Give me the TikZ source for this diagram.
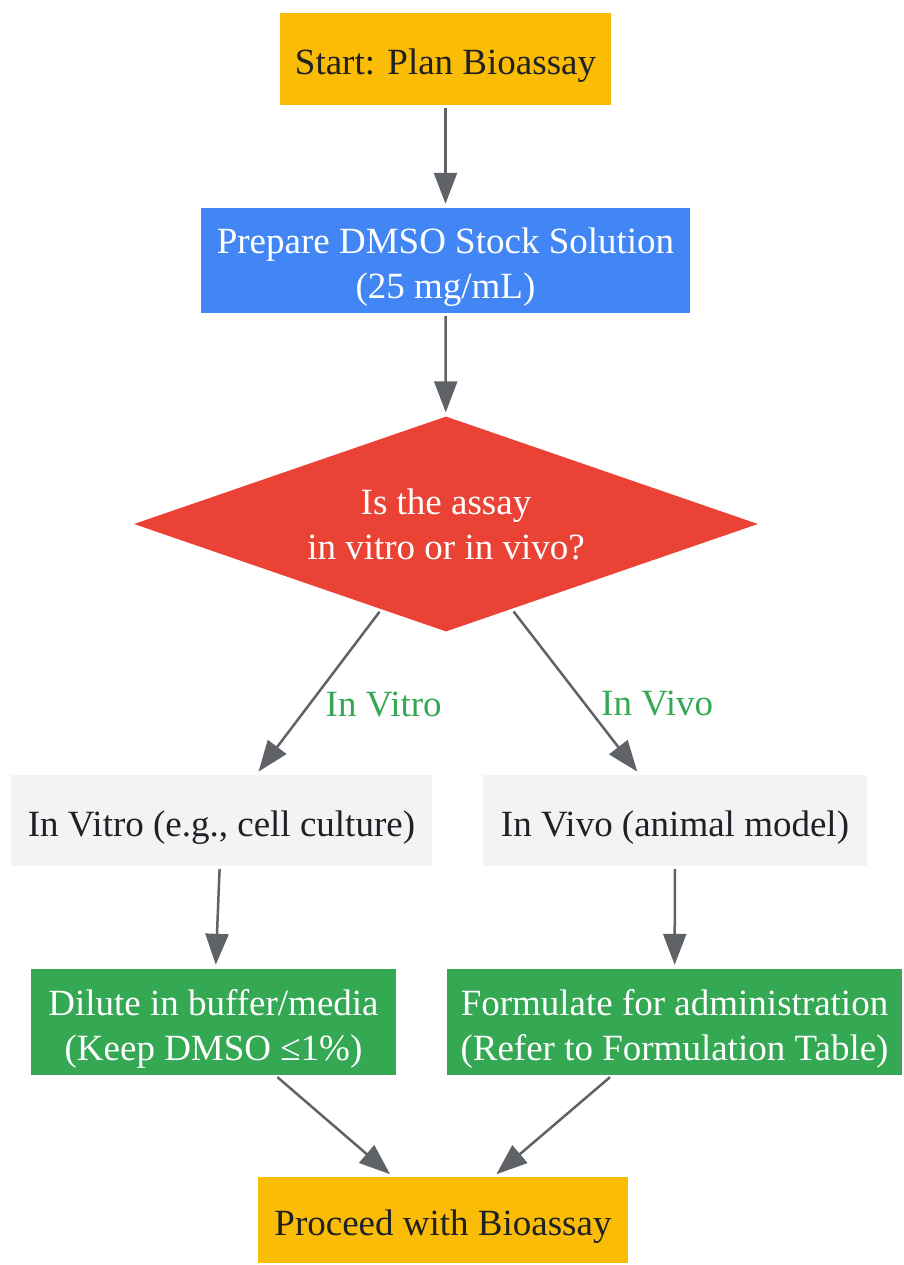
\documentclass[tikz,border=0pt]{standalone}
\usepackage{fontspec}
\setmainfont{Liberation Serif}
\usetikzlibrary{shapes.geometric,arrows.meta}
\definecolor{gyellow}{HTML}{FBBC05}
\definecolor{gblue}{HTML}{4285F4}
\definecolor{gred}{HTML}{EA4335}
\definecolor{ggreen}{HTML}{34A853}
\definecolor{glight}{HTML}{F1F3F4}
\definecolor{garrow}{HTML}{5F6368}
\definecolor{gdark}{HTML}{202124}
\newcommand{\upstrut}{\rule{0pt}{39.5pt}}
\newcommand{\downstrut}{\rule[-8pt]{0pt}{0pt}}

\begin{document}
\begin{tikzpicture}[x=1pt,y=-1pt,
        box/.style={shape=rectangle,inner sep=0pt,align=center,font=\fontsize{37}{45}\selectfont},
        flow/.style={color=garrow,line width=2.5pt,-{Triangle[length=31pt,width=23pt]},shorten <=3pt,shorten >=4pt},
        lbl/.style={text=ggreen,font=\fontsize{37}{45}\selectfont,inner sep=0pt,anchor=west}]
        \useasboundingbox (0,0) rectangle (903,1265);

        \node[box,fill=gyellow,text=gdark,minimum width=331pt,minimum height=92pt] (start) at (445.5,59) {\upstrut Start: Plan Bioassay\downstrut};
        \node[box,fill=gblue,text=white,minimum width=489pt,minimum height=105pt] (stock) at (445.5,260.5) {\upstrut Prepare DMSO Stock Solution\\(25 mg/mL)\downstrut};
        \node[shape=diamond,fill=gred,text=white,minimum width=624pt,minimum height=215pt,aspect=2.9,inner sep=0pt,align=center,font=\fontsize{37}{45}\selectfont] (choice) at (446,524) {Is the assay\\in vitro or in vivo?};
        \node[box,fill=glight,text=gdark,minimum width=421pt,minimum height=91pt] (vitro) at (221.5,820.5) {\upstrut In Vitro (e.g., cell culture)\downstrut};
        \node[box,fill=glight,text=gdark,minimum width=384pt,minimum height=91pt] (vivo) at (675,820.5) {\upstrut In Vivo (animal model)\downstrut};
        \node[box,fill=ggreen,text=white,minimum width=365pt,minimum height=106pt] (dilute) at (213.5,1022) {\upstrut Dilute in buffer/media\\(Keep DMSO ≤1\%)\downstrut};
        \node[box,fill=ggreen,text=white,minimum width=455pt,minimum height=106pt] (formulate) at (674.5,1022) {\upstrut Formulate for administration\\(Refer to Formulation Table)\downstrut};
        \node[box,fill=gyellow,text=gdark,minimum width=370pt,minimum height=86pt] (proceed) at (443,1220) {\upstrut Proceed with Bioassay\downstrut};

        \path [flow](start) edge (stock);
        \path [flow](stock) edge (choice);
        \path [flow](choice) edge node[lbl,pos=0.59,xshift=17pt,yshift=2pt] {In Vitro} (vitro);
        \path [flow](choice) edge node[lbl,pos=0.58,xshift=14pt,yshift=2pt] {In Vivo} (vivo);
        \path [flow](vitro) edge (dilute);
        \path [flow](vivo) edge (formulate);
        \path [flow](dilute) edge (proceed);
        \path [flow](formulate) edge (proceed);
\end{tikzpicture}
\end{document}
